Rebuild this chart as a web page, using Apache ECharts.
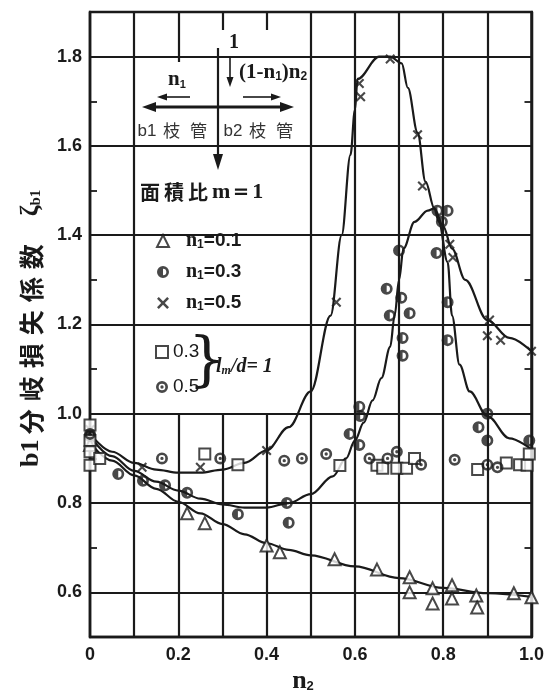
<!DOCTYPE html>
<html>
<head>
<meta charset="utf-8">
<script src="https://cdn.jsdelivr.net/npm/echarts@6/dist/echarts.min.js"></script>
<style>
  html, body { margin: 0; padding: 0; background: #fff; }
  #chart { width: 547px; height: 693px; }
</style>
</head>
<body>
<div id="chart"></div>
<script>
// ---- measured points: [n2, zeta_b1] ----
const n1_01 = [[0,0.93],[0.22,0.777],[0.26,0.755],[0.40,0.705],[0.43,0.69],[0.554,0.674],[0.65,0.651],
  [0.724,0.634],[0.724,0.60],[0.776,0.609],[0.776,0.575],[0.82,0.616],[0.82,0.586],[0.875,0.593],
  [0.877,0.566],[0.96,0.598],[1.0,0.589]];
const n1_03 = [[0,0.95],[0.064,0.865],[0.12,0.85],[0.17,0.84],[0.22,0.823],[0.335,0.775],[0.446,0.80],
  [0.45,0.756],[0.588,0.955],[0.61,0.93],[0.61,1.016],[0.612,0.995],[0.672,1.28],[0.679,1.22],
  [0.70,1.366],[0.705,1.26],[0.708,1.17],[0.708,1.13],[0.724,1.225],[0.785,1.36],[0.787,1.455],
  [0.81,1.455],[0.797,1.43],[0.81,1.25],[0.81,1.165],[0.88,0.97],[0.9,1.0],[0.9,0.94],[0.995,0.94]];
const n1_05 = [[0,0.965],[0.118,0.88],[0.25,0.88],[0.40,0.918],[0.558,1.25],[0.61,1.74],[0.613,1.71],
  [0.68,1.795],[0.742,1.625],[0.753,1.51],[0.815,1.38],[0.822,1.35],[0.905,1.21],[0.90,1.175],
  [0.93,1.165],[1.0,1.14]];
// l_m/d = 1 series
const lm03 = [[0,0.975],[0,0.94],[0,0.915],[0,0.885],[0.022,0.90],[0.26,0.91],[0.335,0.886],
  [0.566,0.884],[0.65,0.885],[0.663,0.878],[0.695,0.878],[0.717,0.878],[0.735,0.9],[0.878,0.875],
  [0.943,0.89],[0.973,0.886],[0.99,0.885],[0.995,0.91]];
const lm05 = [[0,0.955],[0.163,0.9],[0.295,0.9],[0.44,0.895],[0.48,0.9],[0.535,0.91],[0.633,0.9],
  [0.674,0.9],[0.695,0.915],[0.75,0.886],[0.826,0.897],[0.9,0.886],[0.923,0.88]];

// ---- fitted curves ----
const curve01 = [[0,0.935],[0.05,0.895],[0.1,0.862],[0.15,0.832],[0.2,0.803],[0.25,0.777],[0.3,0.753],
  [0.35,0.73],[0.4,0.71],[0.45,0.695],[0.5,0.683],[0.6,0.658],[0.7,0.632],[0.8,0.61],[0.9,0.598],[1.0,0.59]];
const curve03 = [[0,0.95],[0.05,0.905],[0.1,0.872],[0.15,0.848],[0.2,0.828],[0.25,0.81],[0.3,0.797],
  [0.35,0.79],[0.4,0.79],[0.45,0.80],[0.5,0.82],[0.55,0.86],[0.58,0.9],[0.6,0.94],[0.62,0.98],
  [0.64,1.03],[0.66,1.08],[0.68,1.15],[0.69,1.22],[0.70,1.30],[0.71,1.37],[0.735,1.43],[0.765,1.455],
  [0.78,1.46],[0.79,1.43],[0.81,1.34],[0.82,1.22],[0.837,1.11],[0.86,1.05],[0.9,0.995],[0.95,0.945],[1.0,0.92]];
const curve05 = [[0,0.955],[0.05,0.915],[0.1,0.89],[0.15,0.875],[0.2,0.868],[0.25,0.868],[0.3,0.875],
  [0.35,0.89],[0.4,0.918],[0.45,0.97],[0.5,1.05],[0.545,1.22],[0.57,1.40],[0.59,1.58],[0.6,1.68],
  [0.606,1.75],[0.655,1.80],[0.68,1.80],[0.706,1.785],[0.72,1.73],[0.742,1.63],[0.76,1.52],[0.78,1.46],
  [0.8,1.42],[0.82,1.37],[0.85,1.30],[0.9,1.21],[0.95,1.17],[1.0,1.14]];

// horizontal grid values
const yGridValues = [0.6, 0.8, 1.0, 1.2, 1.4, 1.6, 1.8];

const INK = '#1a1a1a';
const SANS = 'Liberation Sans';
const SERIF = 'Liberation Serif';
const CJK = 'Noto Sans CJK JP';
const GRID_W = 2.2;

// marker shapes
const SYM_DOT = 'path://M1,10A9,9 0 1,1 19,10A9,9 0 1,1 1,10ZM5,10A5,5 0 1,0 15,10A5,5 0 1,0 5,10ZM7.5,10A2.5,2.5 0 1,1 12.5,10A2.5,2.5 0 1,1 7.5,10Z';
const SYM_HALF = 'path://M1,10A9,9 0 1,1 19,10A9,9 0 1,1 1,10ZM5,10A5,5 0 1,0 15,10A5,5 0 1,0 5,10ZM10,5A5,5 0 0,0 10,15Z';
const SYM_CROSS = 'path://M0,1.5L1.5,0L5,3.5L8.5,0L10,1.5L6.5,5L10,8.5L8.5,10L5,6.5L1.5,10L0,8.5L3.5,5Z';

const hollow = { color: '#fff', borderColor: INK, borderWidth: 2 };
const solid = { color: INK, borderWidth: 0 };

function curveSeries(data, extra) {
  return Object.assign({
    type: 'line', data, smooth: 0.35, smoothMonotone: 'x', symbol: 'none',
    lineStyle: { color: INK, width: 2.2 }, z: 2, silent: true
  }, extra || {});
}

const chart = echarts.init(document.getElementById('chart'), null, { renderer: 'canvas' });

const legendRich = {
  n: { fontFamily: SERIF, fontWeight: 'bold', fontSize: 20, color: INK, lineHeight: 20, padding: [0, 0, 0, 12] },
  s: { fontFamily: SANS, fontWeight: 'bold', fontSize: 12, color: INK, verticalAlign: 'bottom', lineHeight: 20 },
  v: { fontFamily: SANS, fontWeight: 'bold', fontSize: 19, color: INK, lineHeight: 20 }
};

const option = {
  animation: false,
  backgroundColor: '#fff',
  grid: { left: 90, right: 15, top: 12, bottom: 56, show: true, borderColor: INK, borderWidth: 2.4, backgroundColor: '#fff' },
  xAxis: {
    type: 'value', min: 0, max: 1, interval: 0.1,
    axisLine: { lineStyle: { color: INK, width: 2.4 } },
    axisTick: { show: false },
    splitLine: { show: true, lineStyle: { color: INK, width: GRID_W } },
    axisLabel: {
      margin: 9, color: INK, fontFamily: SANS, fontWeight: 'bold', fontSize: 18,
      formatter: v => { const r = Math.round(v * 10); if (r % 2) return ''; return r === 0 ? '0' : (r / 10).toFixed(1); }
    }
  },
  yAxis: [{
    type: 'value', min: 0.5, max: 1.9, interval: 0.1,
    axisLine: { show: true, lineStyle: { color: INK, width: 2.4 } },
    axisTick: { show: true, inside: true, length: 7, lineStyle: { color: INK, width: 1.8 } },
    splitLine: { show: false },
    axisLabel: {
      margin: 8, color: INK, fontFamily: SANS, fontWeight: 'bold', fontSize: 18,
      formatter: v => { const r = Math.round(v * 10); return (r % 2 === 0 && r >= 6 && r <= 18) ? (r / 10).toFixed(1) : ''; }
    }
  }, {
    type: 'value', min: 0.5, max: 1.9, interval: 0.1, position: 'right',
    axisLine: { show: true, lineStyle: { color: INK, width: 2.4 } },
    axisTick: { show: true, inside: true, length: 7, lineStyle: { color: INK, width: 1.8 } },
    splitLine: { show: false },
    axisLabel: { show: false }
  }],
  legend: [{
    data: ['n1=0.1', 'n1=0.3', 'n1=0.5'], orient: 'vertical', left: 151, top: 226,
    itemWidth: 12, itemHeight: 12, itemGap: 11, selectedMode: false, z: 10,
    formatter: name => '{n|n}{s|1}{v|=' + name.split('=')[1] + '}',
    textStyle: { rich: legendRich }
  }, {
    data: ['0.3', '0.5'], orient: 'vertical', left: 150, top: 337,
    itemWidth: 12, itemHeight: 12, itemGap: 15, selectedMode: false, z: 10,
    textStyle: { fontFamily: SANS, fontSize: 19, color: INK, lineHeight: 20 }
  }],
  series: [
    curveSeries(curve01, {
      markLine: {
        silent: true, symbol: ['none', 'none'], label: { show: false },
        lineStyle: { color: INK, width: GRID_W, type: 'solid' },
        emphasis: { disabled: true },
        data: yGridValues.map(v => ({ yAxis: v }))
      }
    }),
    curveSeries(curve03),
    curveSeries(curve05),
    { name: 'n1=0.1', type: 'scatter', data: n1_01, symbol: 'triangle', symbolSize: 12, itemStyle: hollow, z: 5 },
    { name: 'n1=0.3', type: 'scatter', data: n1_03, symbol: SYM_HALF, symbolSize: 12, symbolKeepAspect: true, itemStyle: solid, z: 5 },
    { name: 'n1=0.5', type: 'scatter', data: n1_05, symbol: SYM_CROSS, symbolSize: 10, symbolKeepAspect: true, itemStyle: solid, z: 5 },
    { name: '0.3', type: 'scatter', data: lm03, symbol: 'rect', symbolSize: 11, itemStyle: hollow, z: 5 },
    { name: '0.5', type: 'scatter', data: lm05, symbol: SYM_DOT, symbolSize: 12, symbolKeepAspect: true, itemStyle: solid, z: 5 }
  ],
  graphic: [
    // blank panels behind the key and flow sketch
    { type: 'rect', z: 3, silent: true, shape: { x: 138, y: 62, width: 143, height: 352 }, style: { fill: '#fff' } },
    { type: 'rect', z: 3, silent: true, shape: { x: 200, y: 30, width: 100, height: 140 }, style: { fill: '#fff' } },
    // flow sketch: main branch lines
    { type: 'line', z: 6, shape: { x1: 218, y1: 48, x2: 218, y2: 158 }, style: { stroke: INK, lineWidth: 2.2 } },
    { type: 'polygon', z: 6, shape: { points: [[213, 154], [223, 154], [218, 170]] }, style: { fill: INK } },
    { type: 'line', z: 6, shape: { x1: 150, y1: 107, x2: 286, y2: 107 }, style: { stroke: INK, lineWidth: 2.8 } },
    { type: 'polygon', z: 6, shape: { points: [[142, 107], [156, 102], [156, 112]] }, style: { fill: INK } },
    { type: 'polygon', z: 6, shape: { points: [[294, 107], [280, 102], [280, 112]] }, style: { fill: INK } },
    // small flow arrows
    { type: 'line', z: 6, shape: { x1: 164, y1: 97, x2: 190, y2: 97 }, style: { stroke: INK, lineWidth: 1.6 } },
    { type: 'polygon', z: 6, shape: { points: [[157, 97], [167, 93.5], [167, 100.5]] }, style: { fill: INK } },
    { type: 'line', z: 6, shape: { x1: 243, y1: 97, x2: 273, y2: 97 }, style: { stroke: INK, lineWidth: 1.6 } },
    { type: 'polygon', z: 6, shape: { points: [[281, 97], [271, 93.5], [271, 100.5]] }, style: { fill: INK } },
    { type: 'line', z: 6, shape: { x1: 230, y1: 57, x2: 230, y2: 78 }, style: { stroke: INK, lineWidth: 1.6 } },
    { type: 'polygon', z: 6, shape: { points: [[226.5, 77], [233.5, 77], [230, 87]] }, style: { fill: INK } },
    // flow sketch labels
    { type: 'text', z: 7, x: 234, y: 43, style: { text: '1', fill: INK, font: 'bold 20px "Liberation Serif"', align: 'center', verticalAlign: 'middle', textAlign: 'center', textVerticalAlign: 'middle' } },
    { type: 'text', z: 7, x: 168, y: 80, style: {
      text: '{n|n}{s|1}', align: 'left', verticalAlign: 'middle', textAlign: 'left', textVerticalAlign: 'middle',
      rich: { n: { fontFamily: SERIF, fontWeight: 'bold', fontSize: 21, fill: INK, lineHeight: 20 },
              s: { fontFamily: SANS, fontWeight: 'bold', fontSize: 11, fill: INK, verticalAlign: 'bottom', lineHeight: 20 } } } },
    { type: 'text', z: 7, x: 239, y: 73, style: {
      text: '{n|(1-n}{s|1}{n|)n}{s|2}', align: 'left', verticalAlign: 'middle', textAlign: 'left', textVerticalAlign: 'middle',
      backgroundColor: '#fff', padding: [1, 2, 1, 0],
      rich: { n: { fontFamily: SERIF, fontWeight: 'bold', fontSize: 21, fill: INK, lineHeight: 20 },
              s: { fontFamily: SANS, fontWeight: 'bold', fontSize: 12, fill: INK, verticalAlign: 'bottom', lineHeight: 20 } } } },
    { type: 'text', z: 7, x: 174, y: 131, style: {
      text: '{t|b1}{c|枝}{c|管}', align: 'center', verticalAlign: 'middle', textAlign: 'center', textVerticalAlign: 'middle',
      rich: { t: { fontFamily: SANS, fontSize: 17, fill: '#333', width: 22 },
              c: { fontFamily: CJK, fontSize: 17, fill: '#333', width: 27, align: 'center' } } } },
    { type: 'text', z: 7, x: 260, y: 131, style: {
      text: '{t|b2}{c|枝}{c|管}', align: 'center', verticalAlign: 'middle', textAlign: 'center', textVerticalAlign: 'middle',
      rich: { t: { fontFamily: SANS, fontSize: 17, fill: '#333', width: 22 },
              c: { fontFamily: CJK, fontSize: 17, fill: '#333', width: 27, align: 'center' } } } },
    { type: 'text', z: 7, x: 140, y: 192, style: {
      text: '{c|面}{c|積}{c|比}{m|m＝1}', align: 'left', verticalAlign: 'middle', textAlign: 'left', textVerticalAlign: 'middle',
      backgroundColor: '#fff',
      rich: { c: { fontFamily: CJK, fontWeight: 'bold', fontSize: 20, fill: INK, width: 24 },
              m: { fontFamily: SERIF, fontWeight: 'bold', fontSize: 22, fill: INK } } } },
    // l_m/d bracket
    { type: 'text', z: 7, x: 207, y: 363, style: { text: '}', fill: INK, font: '60px "DejaVu Serif"', align: 'center', verticalAlign: 'middle', textAlign: 'center', textVerticalAlign: 'middle' } },
    { type: 'text', z: 7, x: 216, y: 367, style: {
      text: '{i|l}{s|m}{i|/d= 1}', align: 'left', verticalAlign: 'middle', textAlign: 'left', textVerticalAlign: 'middle',
      rich: { i: { fontFamily: SERIF, fontStyle: 'italic', fontWeight: 'bold', fontSize: 20, fill: INK, lineHeight: 20 },
              s: { fontFamily: SERIF, fontStyle: 'italic', fontWeight: 'bold', fontSize: 12, fill: INK, verticalAlign: 'bottom', lineHeight: 20 } } } },
    // axis titles
    { type: 'text', z: 7, x: 31, y: 329, rotation: Math.PI / 2, style: {
      text: '{l|b1}{c|分}{c|岐}{c|損}{c|失}{c|係}{c|数}{g| }{z|ζ}{s|b1}',
      align: 'center', verticalAlign: 'middle', textAlign: 'center', textVerticalAlign: 'middle',
      rich: { l: { fontFamily: SERIF, fontWeight: 'bold', fontSize: 26, fill: INK, width: 30, lineHeight: 26 },
              c: { fontFamily: CJK, fontWeight: 'bold', fontSize: 25, fill: INK, width: 33, align: 'center', lineHeight: 26 },
              g: { fontSize: 10, width: 24 },
              z: { fontFamily: SERIF, fontWeight: 'bold', fontSize: 26, fill: INK, lineHeight: 26 },
              s: { fontFamily: SERIF, fontWeight: 'bold', fontSize: 15, fill: INK, verticalAlign: 'bottom', lineHeight: 26 } } } },
    { type: 'text', z: 7, x: 303, y: 681, style: {
      text: '{n|n}{s|2}', align: 'center', verticalAlign: 'middle', textAlign: 'center', textVerticalAlign: 'middle',
      rich: { n: { fontFamily: SERIF, fontWeight: 'bold', fontSize: 26, fill: INK, lineHeight: 24 },
              s: { fontFamily: SANS, fontWeight: 'bold', fontSize: 13, fill: INK, verticalAlign: 'bottom', lineHeight: 24 } } } }
  ]
};

chart.setOption(option);
</script>
</body>
</html>
